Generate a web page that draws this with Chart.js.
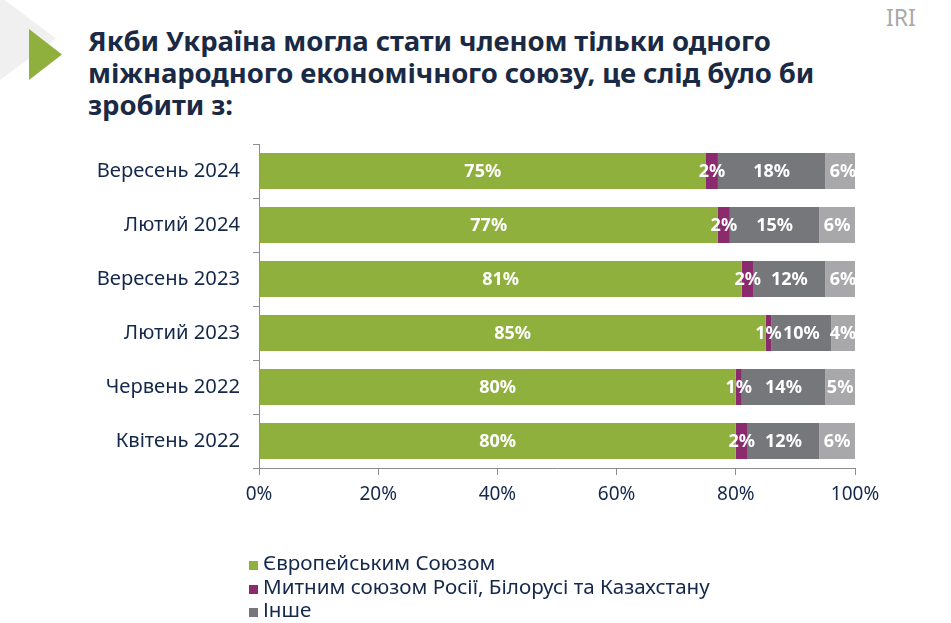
<!DOCTYPE html>
<html>
<head>
<meta charset="utf-8">
<script src="https://cdn.jsdelivr.net/npm/chart.js@4"></script>
<style>
    body { margin: 0; background: #fff; }
    #wrap { position: relative; width: 951px; height: 623px; overflow: hidden; font-family: 'Noto Sans', sans-serif; }
    #bgArrow { position: absolute; left: 0; top: 0; width: 56px; height: 80px; background: #f0f0f0;
        clip-path: polygon(0 0, 8% 0, 100% 48%, 0 100%); }
    #arrow { position: absolute; left: 29px; top: 29px; width: 33px; height: 51px; background: #8fb03d;
        clip-path: polygon(0 0, 100% 50%, 0 100%); }
    #title { position: absolute; left: 88px; top: 25px; font-size: 27.5px; line-height: 32px; font-weight: bold;
        color: #1b2a44; white-space: nowrap; letter-spacing: -0.1px; }
    #iri { position: absolute; left: 886px; top: 1px; font-size: 23px; color: #a9a9a9; }
    #chartBox { position: absolute; left: 0; top: 0; width: 951px; height: 623px; }
    #legend { position: absolute; left: 249px; top: 551px; font-size: 20.6px; color: #14284b; line-height: 23.5px; }
    #legend span.sw { display: inline-block; width: 9px; height: 9px; margin-right: 5px; }
</style>
</head>
<body>
<div id="wrap">
    <div id="bgArrow"></div>
    <div id="arrow"></div>
    <div id="title">Якби Україна могла стати членом тільки одного<br>міжнародного економічного союзу, це слід було би<br>зробити з:</div>
    <div id="iri">IRI</div>
    <div id="chartBox"><canvas id="chart"></canvas></div>
    <div id="legend"></div>
</div>
<script>
// survey waves, newest first
const waves = ['Вересень 2024', 'Лютий 2024', 'Вересень 2023', 'Лютий 2023', 'Червень 2022', 'Квітень 2022'];

// answers, %
const euValues = [75, 77, 81, 85, 80, 80];
const customsValues = [2, 2, 2, 1, 1, 2];
const otherValues = [18, 15, 12, 10, 14, 12];
const dkValues = [6, 6, 6, 4, 5, 6];

const seriesNames = ['Європейським Союзом', 'Митним союзом Росії, Білорусі та Казахстану', 'Інше', 'Важко відповісти'];
const seriesColors = ['#8fb03d', '#8b2a6c', '#76777a', '#a8a8aa'];

const tickPercents = [0, 20, 40, 60, 80, 100];

const navy = '#14284b';
const axisGray = '#8c8c8c';

// white labels centred in every segment
const segmentLabels = {
    id: 'segmentLabels',
    afterDatasetsDraw(chart) {
        const ctx = chart.ctx;
        ctx.save();
        ctx.font = 'bold 18px "Noto Sans", sans-serif';
        ctx.fillStyle = '#fff';
        ctx.textAlign = 'center';
        ctx.textBaseline = 'middle';
        chart.data.datasets.forEach((ds, i) => {
            chart.getDatasetMeta(i).data.forEach((bar, j) => {
                const p = bar.getCenterPoint();
                ctx.fillText(ds.data[j] + '%', p.x, p.y + 1);
            });
        });
        ctx.restore();
    }
};

const allValues = [euValues, customsValues, otherValues, dkValues];

const chart = new Chart(document.getElementById('chart'), {
    type: 'bar',
    data: {
        labels: waves,
        datasets: allValues.map((vals, i) => ({
            label: seriesNames[i],
            data: vals,
            backgroundColor: seriesColors[i],
            categoryPercentage: 1,
            barPercentage: 0.667
        }))
    },
    options: {
        indexAxis: 'y',
        responsive: true,
        maintainAspectRatio: false,
        animation: false,
        layout: { padding: { top: 144, bottom: 115, right: 96, left: 0 } },
        plugins: {
            legend: { display: false },
            tooltip: { enabled: false }
        },
        scales: {
            x: {
                stacked: true,
                min: 0,
                max: 100,
                afterFit: s => { s.height = 40; },
                afterBuildTicks: s => { s.ticks = tickPercents.map(v => ({ value: v })); },
                grid: { drawOnChartArea: false, drawTicks: true, tickLength: 7, color: axisGray },
                border: { color: axisGray },
                ticks: {
                    padding: 8,
                    color: navy,
                    font: { family: 'Noto Sans', size: 19 },
                    callback: v => v + '%'
                }
            },
            y: {
                stacked: true,
                afterFit: s => { s.width = 259; },
                grid: { drawOnChartArea: false, drawTicks: true, tickLength: 6, color: axisGray, offset: true },
                border: { color: axisGray },
                ticks: {
                    padding: 13,
                    color: navy,
                    font: { family: 'Noto Sans', size: 20.2 }
                }
            }
        }
    },
    plugins: [segmentLabels]
});

// legend only lists the first three answers
const legendEl = document.getElementById('legend');
chart.data.datasets.slice(0, 3).forEach(ds => {
    const row = document.createElement('div');
    row.innerHTML = '<span class="sw" style="background:' + ds.backgroundColor + '"></span>' + ds.label;
    legendEl.appendChild(row);
});
</script>
</body>
</html>
